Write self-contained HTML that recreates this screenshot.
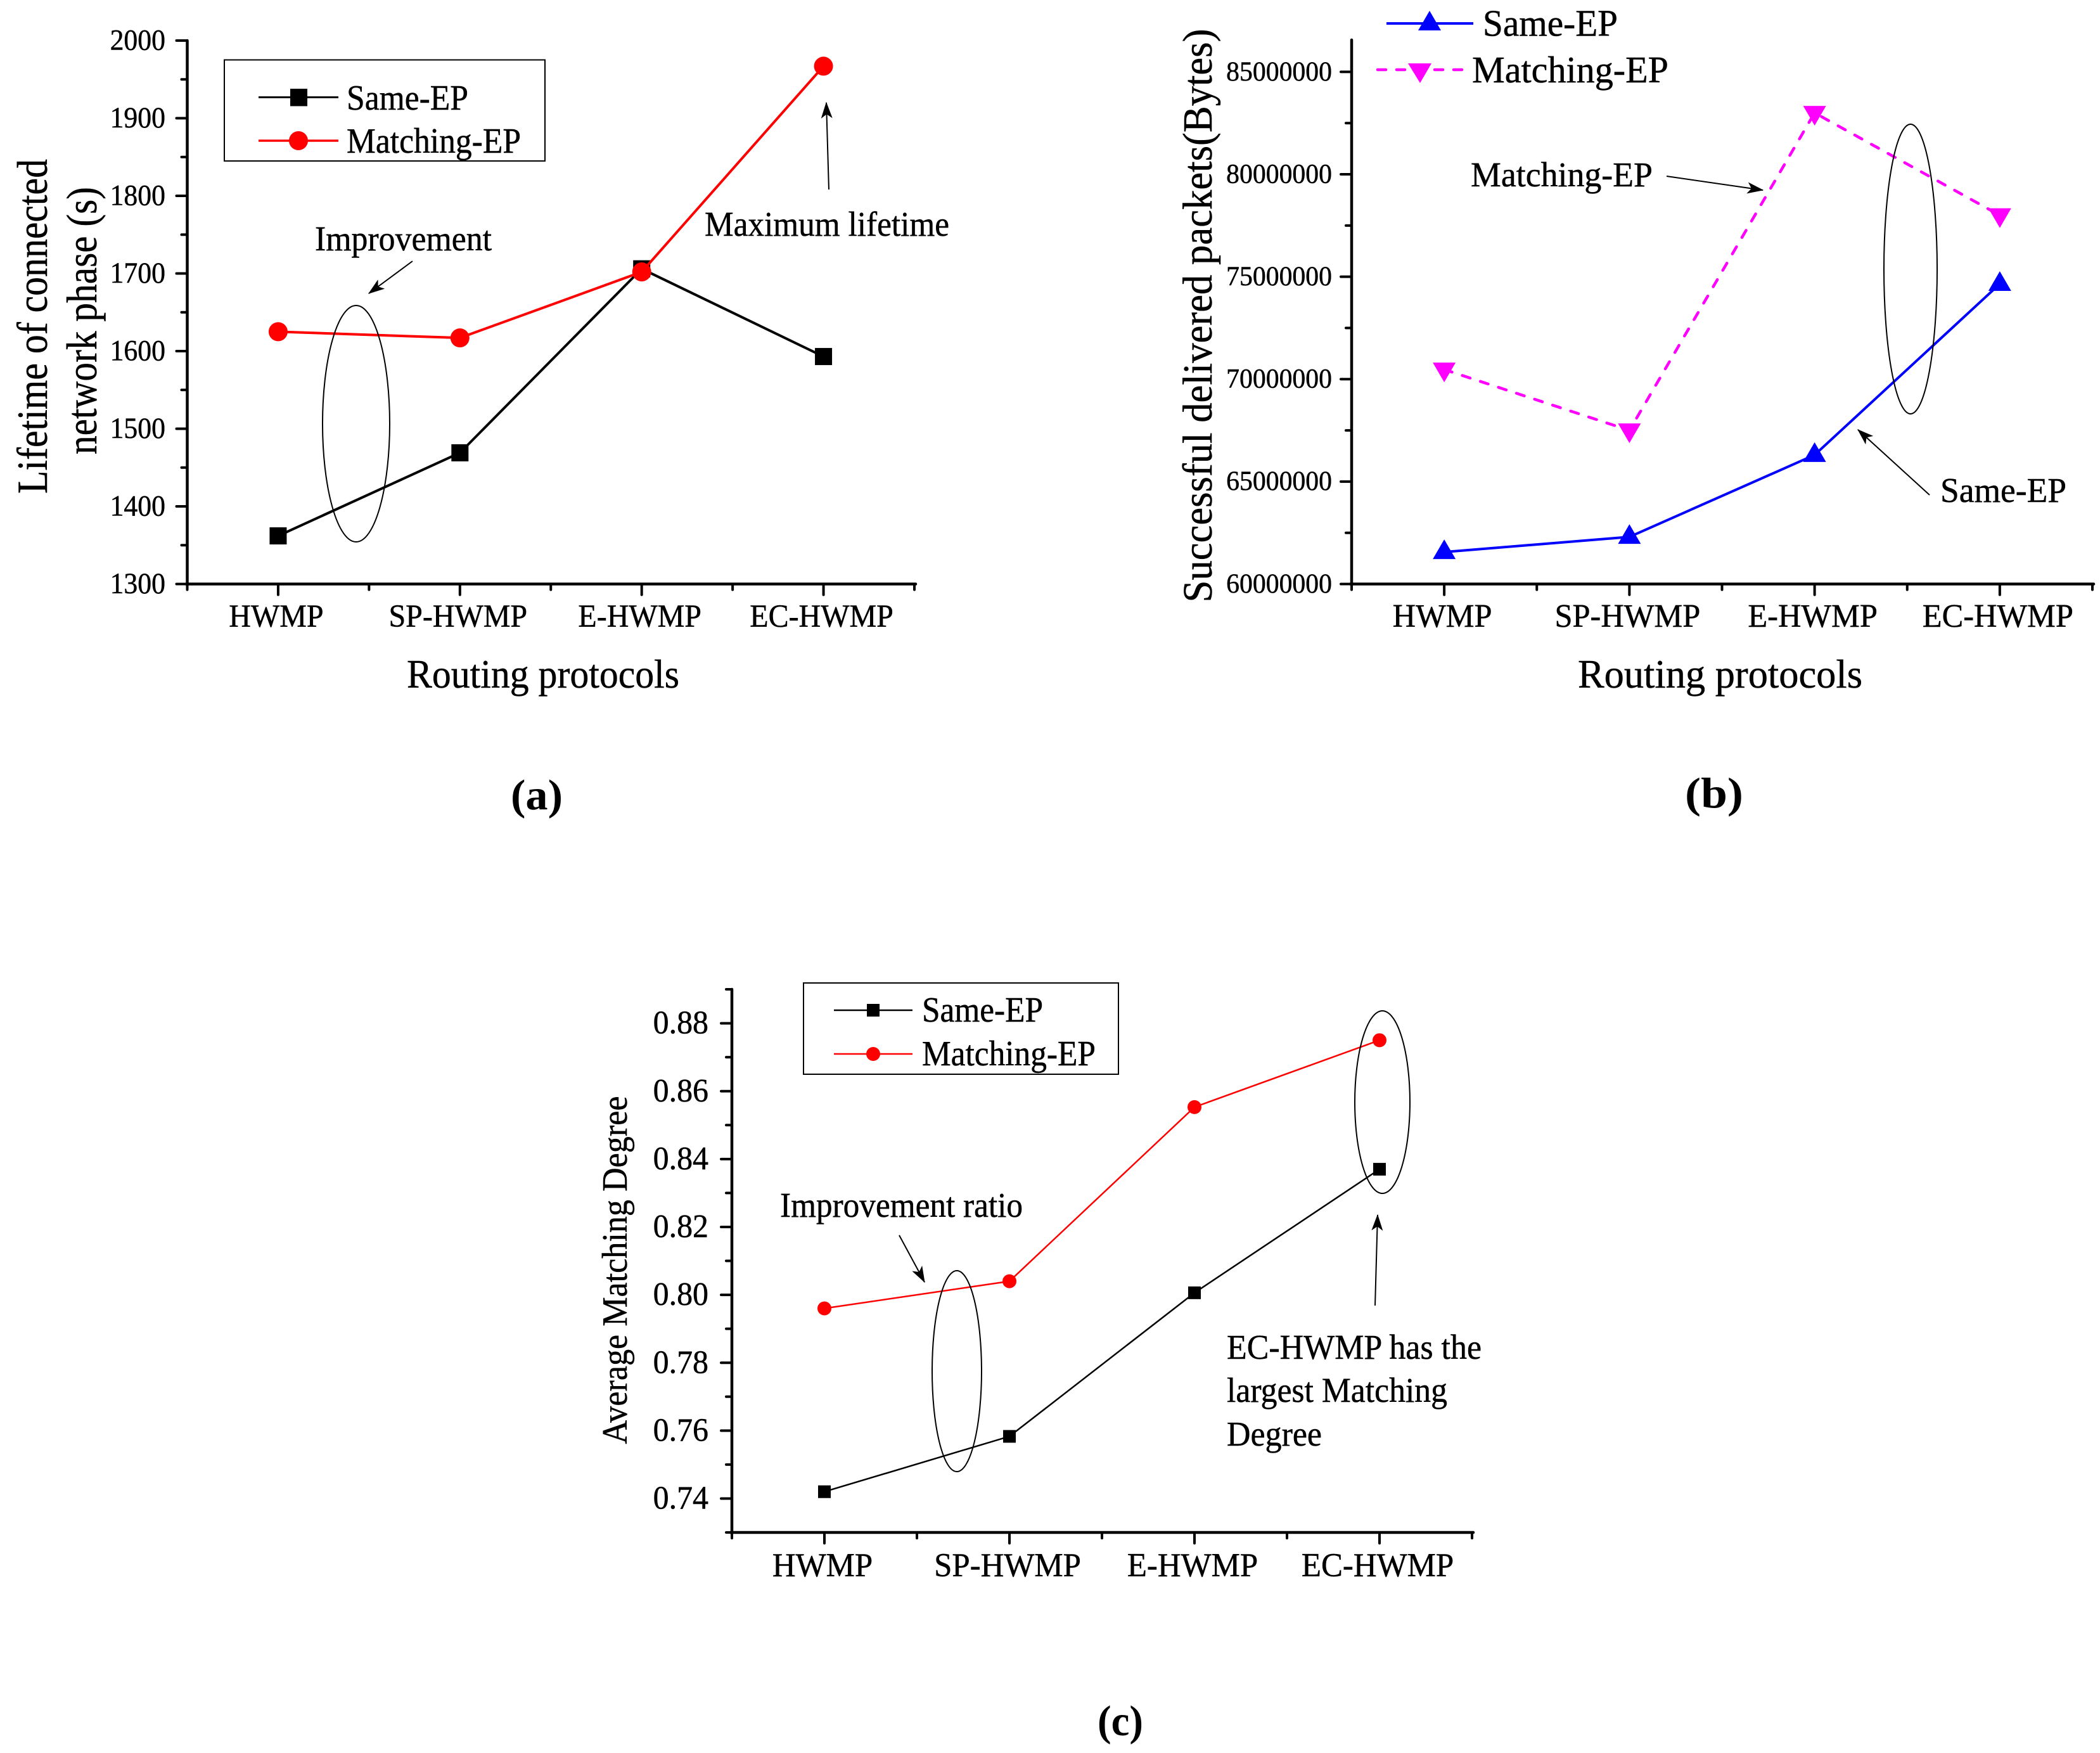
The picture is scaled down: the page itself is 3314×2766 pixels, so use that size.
<!DOCTYPE html>
<html>
<head>
<meta charset="utf-8">
<title>Routing protocol comparison</title>
<style>
  html, body { margin: 0; padding: 0; background: #fff; }
  svg { display: block; }
  text { font-family: "Liberation Serif", serif; fill: #000; stroke: #000; stroke-width: 0.5; }
  .panel { font-weight: bold; font-size: 68px; stroke-width: 0; }
</style>
</head>
<body>
<svg id="figure" xmlns="http://www.w3.org/2000/svg" width="3314" height="2766" viewBox="0 0 3314 2766">
  <defs>
    <marker id="arrowhead" viewBox="0 0 10 10" refX="9.5" refY="5" markerWidth="26" markerHeight="18" markerUnits="userSpaceOnUse" orient="auto" preserveAspectRatio="none">
      <path d="M0 0 L10 5 L0 10 L2.5 5 Z" fill="#000"></path>
    </marker>
  </defs>

  <g id="chart-a">
    <g id="plot-a"></g>
    <text transform="translate(74,515) rotate(-90)" text-anchor="middle" font-size="68" textLength="528" lengthAdjust="spacingAndGlyphs">Lifetime of connected</text>
    <text transform="translate(152,506) rotate(-90)" text-anchor="middle" font-size="68" textLength="422" lengthAdjust="spacingAndGlyphs">network phase (s)</text>
    <text x="642" y="1085" font-size="63" textLength="430" lengthAdjust="spacingAndGlyphs">Routing protocols</text>
    <g>
      <rect x="354" y="94.5" width="506" height="159.5" fill="none" stroke="#000" stroke-width="2"></rect>
      <line x1="408" y1="153.5" x2="534" y2="153.5" stroke="#000" stroke-width="3"></line>
      <rect x="458" y="140" width="27" height="27.5" fill="#000"></rect>
      <text x="547" y="173" font-size="56" textLength="192" lengthAdjust="spacingAndGlyphs">Same-EP</text>
      <line x1="408" y1="222" x2="534" y2="222" stroke="#f00" stroke-width="3.5"></line>
      <circle cx="471" cy="222" r="15" fill="#f00"></circle>
      <text x="547" y="241" font-size="56" textLength="275" lengthAdjust="spacingAndGlyphs">Matching-EP</text>
    </g>
    <text x="497" y="395" font-size="55" textLength="279" lengthAdjust="spacingAndGlyphs">Improvement</text>
    <line x1="651" y1="412" x2="582" y2="463" stroke="#000" stroke-width="2" marker-end="url(#arrowhead)"></line>
    <ellipse cx="562" cy="668.5" rx="53" ry="186.5" fill="none" stroke="#000" stroke-width="2"></ellipse>
    <text x="1112" y="372" font-size="55" textLength="386" lengthAdjust="spacingAndGlyphs">Maximum lifetime</text>
    <line x1="1308" y1="299" x2="1304" y2="162" stroke="#000" stroke-width="2" marker-end="url(#arrowhead)"></line>
    <text class="panel" x="806" y="1277" textLength="82" lengthAdjust="spacingAndGlyphs">(a)</text>
  </g>

  <g id="chart-b">
    <g id="plot-b"></g>
    <text transform="translate(1912,498) rotate(-90)" text-anchor="middle" font-size="66" textLength="905" lengthAdjust="spacingAndGlyphs">Successful delivered packets(Bytes)</text>
    <text x="2490" y="1085" font-size="63" textLength="449" lengthAdjust="spacingAndGlyphs">Routing protocols</text>
    <g>
      <line x1="2188" y1="37" x2="2325" y2="37" stroke="#00f" stroke-width="4"></line>
      <path d="M2256 17 L2274 48 L2238 48 Z" fill="#00f"></path>
      <text x="2340" y="56.5" font-size="59" textLength="213" lengthAdjust="spacingAndGlyphs">Same-EP</text>
      <line x1="2174" y1="110" x2="2309" y2="110" stroke="#f0f" stroke-width="4.5" stroke-dasharray="13 17" stroke-linecap="round"></line>
      <path d="M2222 100 L2259 100 L2241 131 Z" fill="#f0f"></path>
      <text x="2323" y="130" font-size="59" textLength="310" lengthAdjust="spacingAndGlyphs">Matching-EP</text>
    </g>
    <text x="2321" y="294" font-size="55" textLength="287" lengthAdjust="spacingAndGlyphs">Matching-EP</text>
    <line x1="2630" y1="278" x2="2782" y2="300" stroke="#000" stroke-width="2" marker-end="url(#arrowhead)"></line>
    <text x="3062" y="792" font-size="55" textLength="199" lengthAdjust="spacingAndGlyphs">Same-EP</text>
    <line x1="3045" y1="781" x2="2932" y2="678" stroke="#000" stroke-width="2" marker-end="url(#arrowhead)"></line>
    <ellipse cx="3015" cy="424.5" rx="42" ry="228.5" fill="none" stroke="#000" stroke-width="2"></ellipse>
    <text class="panel" x="2659" y="1274" textLength="92" lengthAdjust="spacingAndGlyphs">(b)</text>
  </g>

  <g id="chart-c">
    <g id="plot-c"></g>
    <text transform="translate(989,2004) rotate(-90)" text-anchor="middle" font-size="56" textLength="549" lengthAdjust="spacingAndGlyphs">Average Matching Degree</text>
    <g>
      <rect x="1268" y="1551" width="497" height="144" fill="none" stroke="#000" stroke-width="2"></rect>
      <line x1="1316" y1="1594" x2="1440" y2="1594" stroke="#000" stroke-width="2.5"></line>
      <rect x="1368" y="1584" width="20" height="20" fill="#000"></rect>
      <text x="1455" y="1612" font-size="56" textLength="191" lengthAdjust="spacingAndGlyphs">Same-EP</text>
      <line x1="1316" y1="1663" x2="1440" y2="1663" stroke="#f00" stroke-width="2.5"></line>
      <circle cx="1378" cy="1663" r="11" fill="#f00"></circle>
      <text x="1455" y="1681" font-size="56" textLength="274" lengthAdjust="spacingAndGlyphs">Matching-EP</text>
    </g>
    <text x="1231" y="1920" font-size="55" textLength="383" lengthAdjust="spacingAndGlyphs">Improvement ratio</text>
    <line x1="1419" y1="1949" x2="1459" y2="2023" stroke="#000" stroke-width="2" marker-end="url(#arrowhead)"></line>
    <ellipse cx="1510" cy="2163.5" rx="39" ry="158.5" fill="none" stroke="#000" stroke-width="2"></ellipse>
    <ellipse cx="2181.5" cy="1739" rx="43.5" ry="144" fill="none" stroke="#000" stroke-width="2"></ellipse>
    <line x1="2170" y1="2060" x2="2174" y2="1917" stroke="#000" stroke-width="2" marker-end="url(#arrowhead)"></line>
    <text x="1936" y="2144" font-size="55" textLength="402" lengthAdjust="spacingAndGlyphs">EC-HWMP has the</text>
    <text x="1936" y="2212" font-size="55" textLength="348" lengthAdjust="spacingAndGlyphs">largest Matching</text>
    <text x="1936" y="2281" font-size="55" textLength="150" lengthAdjust="spacingAndGlyphs">Degree</text>
    <text class="panel" x="1732" y="2738" textLength="72" lengthAdjust="spacingAndGlyphs">(c)</text>
  </g>
</svg>

<script>
// ---- chart data ----
const categories = ['HWMP', 'SP-HWMP', 'E-HWMP', 'EC-HWMP'];

const lifetimeSameEp = [1362, 1469, 1706, 1593];
const lifetimeMatchingEp = [1625, 1617, 1702, 1967];
const lifetimeTicks = ['1300', '1400', '1500', '1600', '1700', '1800', '1900', '2000'];

const packetsSameEp = [61560000, 62300000, 66300000, 74650000];
const packetsMatchingEp = [70470000, 67500000, 83000000, 78000000];
const packetsTicks = ['60000000', '65000000', '70000000', '75000000', '80000000', '85000000'];

const degreeSameEp = [0.742, 0.7583, 0.8006, 0.837];
const degreeMatchingEp = [0.796, 0.804, 0.8553, 0.875];
const degreeTicks = ['0.74', '0.76', '0.78', '0.80', '0.82', '0.84', '0.86', '0.88'];

const SVG_NS = 'http://www.w3.org/2000/svg';

function shape(parent, tag, attrs, content) {
  const el = document.createElementNS(SVG_NS, tag);
  for (const key in attrs) el.setAttribute(key, attrs[key]);
  if (content !== undefined) el.textContent = content;
  parent.appendChild(el);
  return el;
}

function squeeze(textEl, ratio) {
  textEl.setAttribute('textLength', textEl.getComputedTextLength() * ratio);
  textEl.setAttribute('lengthAdjust', 'spacingAndGlyphs');
}

// Axis scale functions
function scaleX(plot, position) {
  return plot.left + (position - 0.5) / categories.length * (plot.right - plot.left);
}
function scaleY(plot, value) {
  return plot.bottom - (value - plot.min) / (plot.max - plot.min) * (plot.bottom - plot.top);
}

function drawAxes(group, plot, tickLabels) {
  const axisY = shape(group, 'line', { x1: plot.left, y1: plot.top, x2: plot.left, y2: plot.bottom + 2, stroke: '#000', 'stroke-width': 4.5, 'stroke-linecap': 'round' });
  
  
  const axisX = shape(group, 'line', { x1: plot.left - 2, y1: plot.bottom, x2: plot.right + 2, y2: plot.bottom, stroke: '#000', 'stroke-width': 4.5, 'stroke-linecap': 'round' });
  
  

  const step = Number(tickLabels[1]) - Number(tickLabels[0]);
  const first = Number(tickLabels[0]);
  tickLabels.forEach((label, i) => {
    const y = scaleY(plot, first + i * step);
    const tick = shape(group, 'line', { x1: plot.left - 17, y1: y, x2: plot.left, y2: y, stroke: '#000', 'stroke-width': 4, 'stroke-linecap': 'round' });
    
    
    const text = shape(group, 'text', { x: plot.labelRight, y: y + plot.tickSize * 0.31, 'text-anchor': 'end', 'font-size': plot.tickSize }, label);
    
    
    squeeze(text, plot.tickSqueeze);
  });
  for (let v = first - step / 2; v <= plot.max + step * 1e-6; v += step) {
    if (v < plot.min - step * 1e-6) continue;
    const y = scaleY(plot, v);
    const minor = shape(group, 'line', { x1: plot.left - 9, y1: y, x2: plot.left, y2: y, stroke: '#000', 'stroke-width': 4, 'stroke-linecap': 'round' });
    
    
  }
  categories.forEach((name, i) => {
    const x = scaleX(plot, i + 1);
    const tick = shape(group, 'line', { x1: x, y1: plot.bottom, x2: x, y2: plot.bottom + 17, stroke: '#000', 'stroke-width': 4, 'stroke-linecap': 'round' });
    
    
    const text = shape(group, 'text', { x: x - 3, y: plot.labelY, 'text-anchor': 'middle', 'font-size': plot.catSize }, name);
    
    
    squeeze(text, plot.catSqueeze);
  });
  for (let i = 0; i <= categories.length; i++) {
    const x = scaleX(plot, i + 0.5);
    const minor = shape(group, 'line', { x1: x, y1: plot.bottom, x2: x, y2: plot.bottom + 9, stroke: '#000', 'stroke-width': 4, 'stroke-linecap': 'round' });
    
    
  }
}

function drawLine(group, plot, values, color, width, dash) {
  const pts = values.map((v, i) => scaleX(plot, i + 1) + ',' + scaleY(plot, v)).join(' ');
  const attrs = { points: pts, fill: 'none', stroke: color, 'stroke-width': width };
  if (dash) { attrs['stroke-dasharray'] = dash; attrs['stroke-linecap'] = 'round'; }
  return shape(group, 'polyline', attrs);
}

function drawSquares(group, plot, values, size) {
  values.forEach((v, i) => {
    const m = shape(group, 'rect', { x: scaleX(plot, i + 1) - size / 2, y: scaleY(plot, v) - size / 2, width: size, height: size, fill: '#000' });
    
    
  });
}
function drawCircles(group, plot, values, radius) {
  values.forEach((v, i) => {
    const m = shape(group, 'circle', { cx: scaleX(plot, i + 1), cy: scaleY(plot, v), r: radius, fill: '#f00' });
    
    
  });
}
function drawTriangles(group, plot, values, color, up) {
  values.forEach((v, i) => {
    const x = scaleX(plot, i + 1), y = scaleY(plot, v);
    const d = up
      ? `M${x} ${y - 20} L${x + 18} ${y + 11} L${x - 18} ${y + 11} Z`
      : `M${x - 18} ${y - 11} L${x + 18} ${y - 11} L${x} ${y + 20} Z`;
    const m = shape(group, 'path', { d: d, fill: color });
    
    
  });
}

// ---- chart (a) ----
const plotA = { left: 295.5, right: 1443, top: 64, bottom: 921.5, min: 1300, max: 2000, labelRight: 261, tickSize: 47, tickSqueeze: 0.93, catSize: 50.5, catSqueeze: 0.95, labelY: 989 };
const groupA = document.getElementById('plot-a');
drawAxes(groupA, plotA, lifetimeTicks);
const lineA1 = drawLine(groupA, plotA, lifetimeSameEp, '#000', 4);


drawSquares(groupA, plotA, lifetimeSameEp, 27);
const lineA2 = drawLine(groupA, plotA, lifetimeMatchingEp, '#f00', 4);


drawCircles(groupA, plotA, lifetimeMatchingEp, 15);

// ---- chart (b) ----
const plotB = { left: 2133, right: 3302, top: 63, bottom: 921.5, min: 60000000, max: 86560000, labelRight: 2102, tickSize: 43, tickSqueeze: 0.97, catSize: 52, catSqueeze: 0.97, labelY: 989 };
const groupB = document.getElementById('plot-b');
drawAxes(groupB, plotB, packetsTicks);
const lineB1 = drawLine(groupB, plotB, packetsSameEp, '#00f', 4);


drawTriangles(groupB, plotB, packetsSameEp, '#00f', true);
const lineB2 = drawLine(groupB, plotB, packetsMatchingEp, '#f0f', 4.5, '13 17');


drawTriangles(groupB, plotB, packetsMatchingEp, '#f0f', false);

// ---- chart (c) ----
const plotC = { left: 1155, right: 2323, top: 1561, bottom: 2418, min: 0.73, max: 0.89, labelRight: 1118, tickSize: 52, tickSqueeze: 0.96, catSize: 53, catSqueeze: 0.96, labelY: 2487 };
const groupC = document.getElementById('plot-c');
drawAxes(groupC, plotC, degreeTicks);
const lineC1 = drawLine(groupC, plotC, degreeSameEp, '#000', 2.5);


drawSquares(groupC, plotC, degreeSameEp, 20);
const lineC2 = drawLine(groupC, plotC, degreeMatchingEp, '#f00', 2.5);


drawCircles(groupC, plotC, degreeMatchingEp, 11);
</script>
</body>
</html>
